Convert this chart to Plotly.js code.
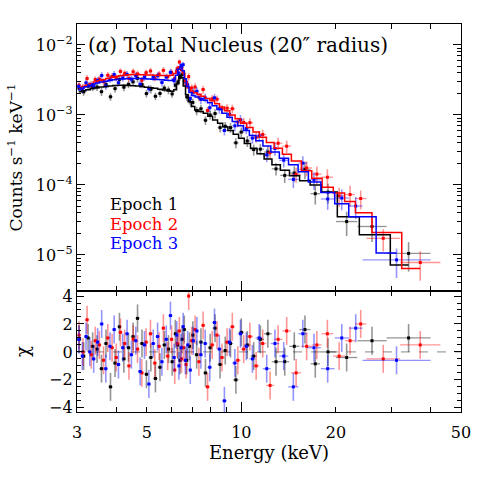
<!DOCTYPE html>
<html>
<head>
<meta charset="utf-8">
<script src="https://cdn.plot.ly/plotly-3.0.1.min.js"></script>
<style>
  html, body { margin: 0; padding: 0; background: #fff; }
  #chart { width: 485px; height: 485px; }
</style>
</head>
<body>
<div id="chart"></div>
<script>
// Epoch 1 (black): bin edges (keV), rate, model, fractional error, residual chi
const edges1 = [3.00,3.10,3.20,3.31,3.42,3.53,3.65,3.77,3.90,4.03,4.16,4.30,4.45,4.60,4.75,4.91,5.07,5.24,5.42,5.60,5.78,5.95,6.10,6.23,6.33,6.43,6.53,6.64,6.77,6.92,7.10,7.32,7.56,7.82,8.10,8.40,8.72,9.06,9.42,9.80,10.2,10.7,11.2,11.8,12.5,13.3,14.2,15.3,16.6,17.8,20.0,23.4,29.0,40.0];
const rate1 = [2.38e-3,2.14e-3,2.58e-3,2.49e-3,2.51e-3,2.15e-3,2.74e-3,1.82e-3,2.38e-3,3.22e-3,
  2.49e-3,2.74e-3,2.97e-3,3.34e-3,2.73e-3,2.02e-3,2.33e-3,1.85e-3,2.03e-3,2.42e-3,
  2.27e-3,2.0e-3,2.66e-3,2.97e-3,3.43e-3,3.77e-3,3.10e-3,1.81e-3,1.62e-3,1.51e-3,
  1.15e-3,1.23e-3,8.4e-4,1.0e-3,1.05e-3,6.6e-4,6.9e-4,6.6e-4,4.0e-4,5.7e-4,
  4.25e-4,3.2e-4,3.25e-4,2.95e-4,1.7e-4,1.37e-4,1.48e-4,1.67e-4,7.5e-5,7.9e-5,
  3.0e-5,2.55e-5,1.05e-5];
const model1 = [2.15e-3,2.22e-3,2.30e-3,2.38e-3,2.45e-3,2.51e-3,2.56e-3,2.60e-3,2.63e-3,2.65e-3,
  2.65e-3,2.64e-3,2.62e-3,2.59e-3,2.55e-3,2.50e-3,2.45e-3,2.40e-3,2.34e-3,2.28e-3,
  2.22e-3,2.18e-3,2.30e-3,2.80e-3,3.70e-3,3.40e-3,2.60e-3,1.95e-3,1.55e-3,1.32e-3,
  1.18e-3,1.12e-3,1.06e-3,9.6e-4,8.5e-4,7.6e-4,6.8e-4,6.0e-4,5.3e-4,4.65e-4,
  3.9e-4,3.35e-4,2.8e-4,2.35e-4,1.95e-4,1.62e-4,1.35e-4,1.15e-4,1.0e-4,7.9e-5,
  3.5e-5,1.95e-5,7.2e-6];
const frac1 = [0.13,0.12,0.13,0.12,0.12,0.13,0.12,0.12,0.12,0.13,
  0.12,0.12,0.12,0.13,0.12,0.12,0.13,0.12,0.12,0.12,
  0.13,0.12,0.12,0.11,0.10,0.10,0.11,0.12,0.13,0.13,
  0.14,0.14,0.14,0.14,0.15,0.15,0.15,0.16,0.16,0.16,
  0.18,0.18,0.18,0.20,0.20,0.22,0.25,0.28,0.30,0.32,
  0.38,0.40,0.45];
const chi1 = [0.9,-0.3,1.0,0.4,0.2,-1.2,0.6,-2.5,-0.8,1.8,
  -0.5,0.3,1.1,2.4,0.6,-1.6,-0.4,-1.9,-1.1,0.5,
  0.2,-0.7,1.3,0.5,-0.6,0.9,1.6,-0.6,0.4,1.2,
  -0.2,0.7,-1.5,0.3,1.7,-0.9,0.1,0.6,-2.0,1.4,
  0.5,-0.3,0.9,1.3,-0.7,-0.7,0.4,1.6,-0.85,0.0,
  -0.4,0.8,1.0];

// Epoch 2 (red)
const edges2 = [3.00,3.09,3.18,3.28,3.38,3.48,3.59,3.70,3.82,3.94,4.06,4.19,4.32,4.46,4.60,4.75,4.90,5.06,5.22,5.39,5.56,5.74,5.92,6.08,6.20,6.30,6.40,6.50,6.61,6.73,6.87,7.03,7.22,7.44,7.68,7.94,8.22,8.52,8.84,9.18,9.55,9.95,10.4,10.9,11.4,12.0,12.7,13.5,14.4,15.5,16.8,18.0,19.6,21.4,23.0,25.0,32.0,43.0];
const rate2 = [2.66e-3,2.5e-3,3.32e-3,2.74e-3,3.21e-3,3.25e-3,2.99e-3,3.69e-3,3.56e-3,3.39e-3,
  4.19e-3,3.94e-3,3.34e-3,4.15e-3,3.86e-3,3.14e-3,4.03e-3,4.25e-3,3.37e-3,3.84e-3,
  4.34e-3,3.52e-3,4.07e-3,3.34e-3,4.58e-3,5.71e-3,4.44e-3,4.03e-3,2.70e-3,3.53e-3,
  2.43e-3,2.51e-3,1.80e-3,2.31e-3,1.16e-3,1.70e-3,1.68e-3,1.23e-3,1.25e-3,1.23e-3,
  7.95e-4,7.84e-4,7.76e-4,4.79e-4,5.26e-4,2.9e-4,3.95e-4,3.58e-4,1.41e-4,1.75e-4,
  1.43e-4,1.29e-4,7.0e-5,7.3e-5,6.4e-5,1.73e-5,7.8e-6];
const model2 = [2.35e-3,2.5e-3,2.65e-3,2.8e-3,2.95e-3,3.08e-3,3.2e-3,3.32e-3,3.45e-3,3.55e-3,
  3.63e-3,3.7e-3,3.75e-3,3.78e-3,3.78e-3,3.76e-3,3.74e-3,3.72e-3,3.7e-3,3.68e-3,
  3.66e-3,3.64e-3,3.7e-3,3.9e-3,4.3e-3,4.9e-3,4.7e-3,3.9e-3,3.0e-3,2.45e-3,
  2.2e-3,2.08e-3,1.98e-3,1.85e-3,1.72e-3,1.6e-3,1.45e-3,1.3e-3,1.15e-3,1.0e-3,
  8.8e-4,7.6e-4,6.6e-4,5.7e-4,4.8e-4,4.05e-4,3.35e-4,2.75e-4,2.2e-4,1.6e-4,
  1.25e-4,9.3e-5,7.7e-5,5.8e-5,4.0e-5,2.1e-5,6.4e-6];
const frac2 = [0.11,0.11,0.12,0.11,0.11,0.11,0.12,0.11,0.11,0.11,
  0.11,0.11,0.11,0.11,0.11,0.11,0.11,0.11,0.11,0.11,
  0.11,0.11,0.11,0.11,0.10,0.09,0.10,0.10,0.11,0.12,
  0.13,0.13,0.13,0.13,0.13,0.13,0.13,0.14,0.14,0.14,
  0.16,0.16,0.16,0.16,0.17,0.20,0.20,0.20,0.24,0.24,
  0.28,0.30,0.30,0.33,0.30,0.35,0.45];
const chi2 = [1.2,0.0,2.3,-0.2,0.8,0.5,-0.6,1.0,0.3,-0.4,
  1.4,0.6,-1.0,0.9,0.2,-1.5,0.7,1.3,-0.8,0.4,
  1.7,-0.3,0.9,-1.3,0.6,1.5,-0.5,0.3,-0.9,4.0,
  0.8,1.6,-0.7,1.9,-2.5,0.5,1.2,-0.4,0.7,1.8,
  -0.6,0.2,1.1,-1.0,0.6,-2.4,0.9,1.5,-1.5,0.4,
  0.5,1.3,-0.3,0.8,2.0,-0.5,0.5];

// Epoch 3 (blue)
const edges3 = [3.00,3.08,3.16,3.25,3.34,3.44,3.54,3.65,3.76,3.88,4.00,4.13,4.26,4.40,4.54,4.69,4.84,5.00,5.16,5.33,5.50,5.68,5.86,6.04,6.18,6.28,6.38,6.48,6.58,6.69,6.81,6.95,7.12,7.32,7.55,7.80,8.07,8.36,8.67,9.00,9.35,9.73,10.15,10.6,11.1,11.7,12.4,13.2,14.1,15.2,16.2,17.9,19.8,22.0,24.3,40.0];
const rate3 = [2.55e-3,2.33e-3,2.88e-3,2.65e-3,2.59e-3,3.10e-3,3.66e-3,2.60e-3,3.27e-3,3.79e-3,
  2.89e-3,3.40e-3,3.81e-3,3.24e-3,3.64e-3,2.75e-3,3.49e-3,2.37e-3,3.47e-3,3.63e-3,
  2.91e-3,3.48e-3,4.07e-3,3.09e-3,4.23e-3,3.96e-3,5.08e-3,5.23e-3,3.06e-3,2.70e-3,
  1.72e-3,2.11e-3,2.18e-3,1.67e-3,1.76e-3,1.27e-3,1.76e-3,1.23e-3,6.0e-4,1.02e-3,
  7.0e-4,8.55e-4,6.41e-4,4.67e-4,5.03e-4,2.69e-4,3.32e-4,2.25e-4,1.2e-4,2.05e-4,
  1.19e-4,6.3e-5,6.5e-5,5.0e-5,8.5e-6];
const model3 = [2.3e-3,2.42e-3,2.54e-3,2.65e-3,2.76e-3,2.86e-3,2.95e-3,3.04e-3,3.12e-3,3.18e-3,
  3.24e-3,3.28e-3,3.3e-3,3.32e-3,3.32e-3,3.31e-3,3.29e-3,3.27e-3,3.24e-3,3.21e-3,
  3.18e-3,3.14e-3,3.1e-3,3.25e-3,3.7e-3,4.5e-3,4.9e-3,4.3e-3,3.3e-3,2.55e-3,
  2.1e-3,1.9e-3,1.8e-3,1.72e-3,1.62e-3,1.5e-3,1.36e-3,1.2e-3,1.06e-3,9.3e-4,
  8.1e-4,7.0e-4,6.0e-4,5.1e-4,4.3e-4,3.6e-4,2.95e-4,2.4e-4,1.95e-4,1.55e-4,
  1.1e-4,7.8e-5,5.4e-5,3.5e-5,1.07e-5];
const frac3 = [0.12,0.12,0.12,0.12,0.12,0.12,0.12,0.12,0.12,0.12,
  0.12,0.12,0.12,0.12,0.12,0.12,0.12,0.12,0.12,0.12,
  0.12,0.12,0.12,0.11,0.10,0.10,0.10,0.10,0.11,0.12,
  0.14,0.14,0.14,0.14,0.14,0.14,0.14,0.15,0.15,0.15,
  0.17,0.17,0.17,0.17,0.17,0.21,0.21,0.21,0.25,0.25,
  0.28,0.30,0.33,0.35,0.45];
const chi3 = [0.9,-0.3,1.1,0.0,-0.5,0.7,2.0,-1.2,0.4,1.6,
  -0.9,0.3,1.3,-0.2,0.8,-1.4,0.5,-2.3,0.6,1.1,
  -0.7,0.9,2.6,-0.4,1.2,-1.0,0.3,1.8,-0.6,0.5,
  -1.3,0.8,1.5,-0.2,0.6,-1.1,2.1,0.2,-3.5,0.7,
  -0.8,1.3,0.4,-0.5,1.0,-1.2,0.6,-0.3,-2.5,1.3,
  0.3,-1.2,1.0,1.7,-0.6];

const epochNames = ["Epoch 1", "Epoch 2", "Epoch 3"];
const epochColors = ["#000000", "#ff0000", "#0000ff"];
const errColors = ["rgba(0,0,0,0.42)", "rgba(255,0,0,0.42)", "rgba(0,0,255,0.42)"];

const FONT = "DejaVu Serif";

function epochTraces(edges, rate, model, frac, chi, col, ecol) {
  const x = [], lo = [], hi = [], err = [];
  for (let i = 0; i < rate.length; i++) {
    const c = Math.sqrt(edges[i] * edges[i + 1]);
    x.push(c);
    lo.push(c - edges[i]);
    hi.push(edges[i + 1] - c);
    err.push(rate[i] * frac[i]);
  }
  const ex = {type: "data", symmetric: false, array: hi, arrayminus: lo, color: ecol, thickness: 1.3, width: 0};
  const data = {
    x: x, y: rate, xaxis: "x2", yaxis: "y2", type: "scatter", mode: "markers",
    marker: {symbol: "square", size: 3, color: col},
    error_y: {type: "data", array: err, color: ecol, thickness: 1.6, width: 0},
    error_x: ex
  };
  const line = {
    x: x, y: model, xaxis: "x2", yaxis: "y2", type: "scatter", mode: "lines",
    line: {shape: "hvh", color: col, width: 1.5}
  };
  const resid = {
    x: x, y: chi, xaxis: "x", yaxis: "y", type: "scatter", mode: "markers",
    marker: {symbol: "square", size: 3, color: col},
    error_y: {type: "constant", value: 1, color: ecol, thickness: 1.6, width: 0},
    error_x: ex
  };
  return {data, line, resid};
}

const e1 = epochTraces(edges1, rate1, model1, frac1, chi1, epochColors[0], errColors[0]);
const e2 = epochTraces(edges2, rate2, model2, frac2, chi2, epochColors[1], errColors[1]);
const e3 = epochTraces(edges3, rate3, model3, frac3, chi3, epochColors[2], errColors[2]);

// empty traces that hold the overlay axes carrying the long decade tick at 10 keV
const tickHolders = [
  {x: [], y: [], xaxis: "x3", yaxis: "y", type: "scatter", mode: "markers"},
  {x: [], y: [], xaxis: "x4", yaxis: "y2", type: "scatter", mode: "markers"}
];

const traces = [e1.resid, e2.resid, e3.resid, e1.data, e2.data, e3.data, e1.line, e2.line, e3.line].concat(tickHolders);

// log minor ticks for the count-rate axis
const yMinor = [];
for (let d = -6; d <= -2; d++) {
  for (let m = 2; m <= 9; m++) yMinor.push(m * Math.pow(10, d));
}

const splitY = 0.3119;
const xRange = [Math.log10(3), Math.log10(50)];
const axisCommon = {
  showgrid: false, zeroline: false, showline: true, linecolor: "#000", linewidth: 1.2,
  ticks: "inside", tickcolor: "#000", tickwidth: 1, mirror: "ticks",
  tickfont: {family: FONT, size: 16, color: "#000"}
};
const longTick = {
  type: "log", range: xRange, showgrid: false, zeroline: false, showline: false,
  ticks: "inside", tickcolor: "#000", tickwidth: 1.2, ticklen: 10, mirror: "ticks",
  tickvals: [10], showticklabels: false
};

const layout = {
  width: 485, height: 485,
  margin: {l: 77, r: 24, t: 24, b: 73},
  paper_bgcolor: "#fff", plot_bgcolor: "#fff",
  showlegend: false,
  hovermode: false,
  font: {family: FONT, color: "#000"},
  xaxis: Object.assign({}, axisCommon, {
    type: "log", range: xRange, anchor: "y", domain: [0, 1],
    tickvals: [3, 5, 10, 20, 50], ticklen: 5, ticklabelstandoff: 6,
    minor: {tickvals: [4, 6, 7, 8, 9, 30, 40], ticks: "inside", ticklen: 5, tickcolor: "#000"},
    title: {text: "Energy (keV)", font: {family: FONT, size: 18}, standoff: 4}
  }),
  xaxis2: Object.assign({}, axisCommon, {
    type: "log", range: xRange, anchor: "y2",
    tickvals: [3, 5, 10, 20, 50], ticklen: 5, showticklabels: false,
    minor: {tickvals: [4, 6, 7, 8, 9, 30, 40], ticks: "inside", ticklen: 5, tickcolor: "#000"}
  }),
  xaxis3: Object.assign({}, longTick, {overlaying: "x", anchor: "y"}),
  xaxis4: Object.assign({}, longTick, {overlaying: "x2", anchor: "y2"}),
  yaxis: Object.assign({}, axisCommon, {
    domain: [0, splitY], range: [-4.3, 4.36], anchor: "x",
    tickvals: [-4, -2, 0, 2, 4], ticktext: ["\u22124", "\u22122", "0", "2", "4"], ticklen: 7,
    minor: {dtick: 0.5, ticks: "inside", ticklen: 4, tickcolor: "#000"},
    title: {text: "\u03c7", font: {family: FONT, size: 18}, standoff: 14}
  }),
  yaxis2: Object.assign({}, axisCommon, {
    domain: [splitY, 1], type: "log", range: [-5.515, -1.70], anchor: "x2",
    tickvals: [1e-5, 1e-4, 1e-3, 1e-2],
    ticktext: ["10<sup>\u22125</sup>", "10<sup>\u22124</sup>", "10<sup>\u22123</sup>", "10<sup>\u22122</sup>"],
    ticklen: 8,
    minor: {tickvals: yMinor, ticks: "inside", ticklen: 4, tickcolor: "#000"},
    title: {text: "Counts s<sup>\u22121</sup> keV<sup>\u22121</sup>", font: {family: FONT, size: 17}, standoff: 8}
  }),
  shapes: [{
    type: "line", layer: "below", xref: "x domain", yref: "y",
    x0: 0, x1: 1, y0: 0, y1: 0,
    line: {color: "#888", width: 1, dash: "dash"}
  }],
  annotations: [
    {xref: "paper", yref: "paper", x: 0.024, y: 0.946, xanchor: "left", yanchor: "middle",
     text: "(<i>\u03b1</i>) Total Nucleus (20\u2033 radius)", showarrow: false,
     font: {family: FONT, size: 20, color: "#000"}},
    {xref: "paper", yref: "paper", x: 0.08, y: 0.536, xanchor: "left", yanchor: "middle",
     text: epochNames[0], showarrow: false, font: {family: FONT, size: 16.5, color: epochColors[0]}},
    {xref: "paper", yref: "paper", x: 0.08, y: 0.4845, xanchor: "left", yanchor: "middle",
     text: epochNames[1], showarrow: false, font: {family: FONT, size: 16.5, color: epochColors[1]}},
    {xref: "paper", yref: "paper", x: 0.08, y: 0.433, xanchor: "left", yanchor: "middle",
     text: epochNames[2], showarrow: false, font: {family: FONT, size: 16.5, color: epochColors[2]}}
  ]
};

Plotly.newPlot("chart", traces, layout, {staticPlot: true, displayModeBar: false});
</script>
</body>
</html>
